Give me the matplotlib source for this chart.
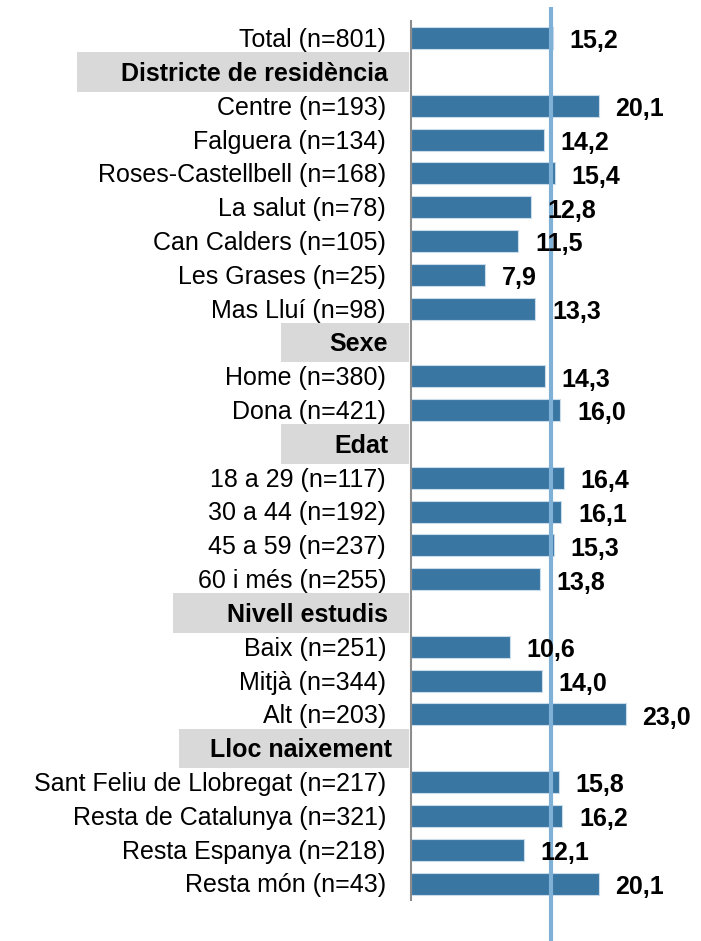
import matplotlib.pyplot as plt
import matplotlib.transforms as mtransforms
from matplotlib.patches import Rectangle

# Categories (top to bottom); header rows carry no value
etiquetes = [
    "Total (n=801)",
    "Districte de residència",
    "Centre (n=193)",
    "Falguera (n=134)",
    "Roses-Castellbell (n=168)",
    "La salut (n=78)",
    "Can Calders (n=105)",
    "Les Grases (n=25)",
    "Mas Lluí (n=98)",
    "Sexe",
    "Home (n=380)",
    "Dona (n=421)",
    "Edat",
    "18 a 29 (n=117)",
    "30 a 44 (n=192)",
    "45 a 59 (n=237)",
    "60 i més (n=255)",
    "Nivell estudis",
    "Baix (n=251)",
    "Mitjà (n=344)",
    "Alt (n=203)",
    "Lloc naixement",
    "Sant Feliu de Llobregat (n=217)",
    "Resta de Catalunya (n=321)",
    "Resta Espanya (n=218)",
    "Resta món (n=43)",
]
valors = [15.2, None, 20.1, 14.2, 15.4, 12.8, 11.5, 7.9, 13.3, None, 14.3, 16.0,
          None, 16.4, 16.1, 15.3, 13.8, None, 10.6, 14.0, 23.0, None,
          15.8, 16.2, 12.1, 20.1]
referencia = 15.0

# header rows: left edge of the grey band and right edge of the text (pixels)
capcaleres = {
    "Districte de residència": (77, 388),
    "Sexe": (281, 388),
    "Edat": (281, 388),
    "Nivell estudis": (173, 388),
    "Lloc naixement": (179, 392),
}

W, H = 701, 941
FS = 18
plt.rcParams['font.family'] = ['Liberation Sans', 'DejaVu Sans']
fig = plt.figure(figsize=(W / 100, H / 100), dpi=100)
ax = fig.add_axes([411 / W, 0, 1 - 411 / W, 1 - 7 / H])

# shift so that the cap height is centred on the row
baix = -0.716 * FS / 2

color_barra = '#3a76a2'
n = len(etiquetes)
for i, (lab, v) in enumerate(zip(etiquetes, valors)):
    if v is None:
        continue
    ax.barh(i, v, height=0.65, color=color_barra, edgecolor='#c9dcec',
            linewidth=0.8, zorder=2)
    ax.annotate(f"{v:.1f}".replace('.', ','), (v, i), xytext=(12, baix - 1),
                textcoords='offset points', va='baseline', ha='left',
                fontsize=FS, fontweight='bold', color='black', zorder=4)

ax.axvline(referencia, color='#7fb0d6', linewidth=3, zorder=3)

ax.set_xlim(0, (W - 411) / 9.34)
ax.set_ylim(26.7, -0.92)

# category labels and grey header bands
trans = mtransforms.blended_transform_factory(fig.transFigure, ax.transData)
for i, lab in enumerate(etiquetes):
    if lab in capcaleres:
        esq, dre = capcaleres[lab]
        x0 = esq / W
        ax.add_patch(Rectangle((x0, i - 0.58), 409 / W - x0, 1.16,
                               transform=trans, facecolor='#d9d9d9',
                               edgecolor='none', clip_on=False, zorder=0))
        ax.annotate(lab, (dre / W, i), xycoords=trans, xytext=(0, baix),
                    textcoords='offset points', ha='right', va='baseline',
                    fontsize=FS, fontweight='bold', zorder=1)
    else:
        ax.annotate(lab, (386 / W, i), xycoords=trans, xytext=(0, baix),
                    textcoords='offset points', ha='right', va='baseline',
                    fontsize=FS, zorder=1)

ax.set_xticks([])
ax.set_yticks([])
for s in ['top', 'right', 'bottom']:
    ax.spines[s].set_visible(False)
ax.spines['left'].set_color('#8c8c8c')
ax.spines['left'].set_linewidth(1.5)
ax.spines['left'].set_bounds(-0.5, n - 0.5)
ax.patch.set_alpha(0)

fig.savefig('out.png', dpi=100)
